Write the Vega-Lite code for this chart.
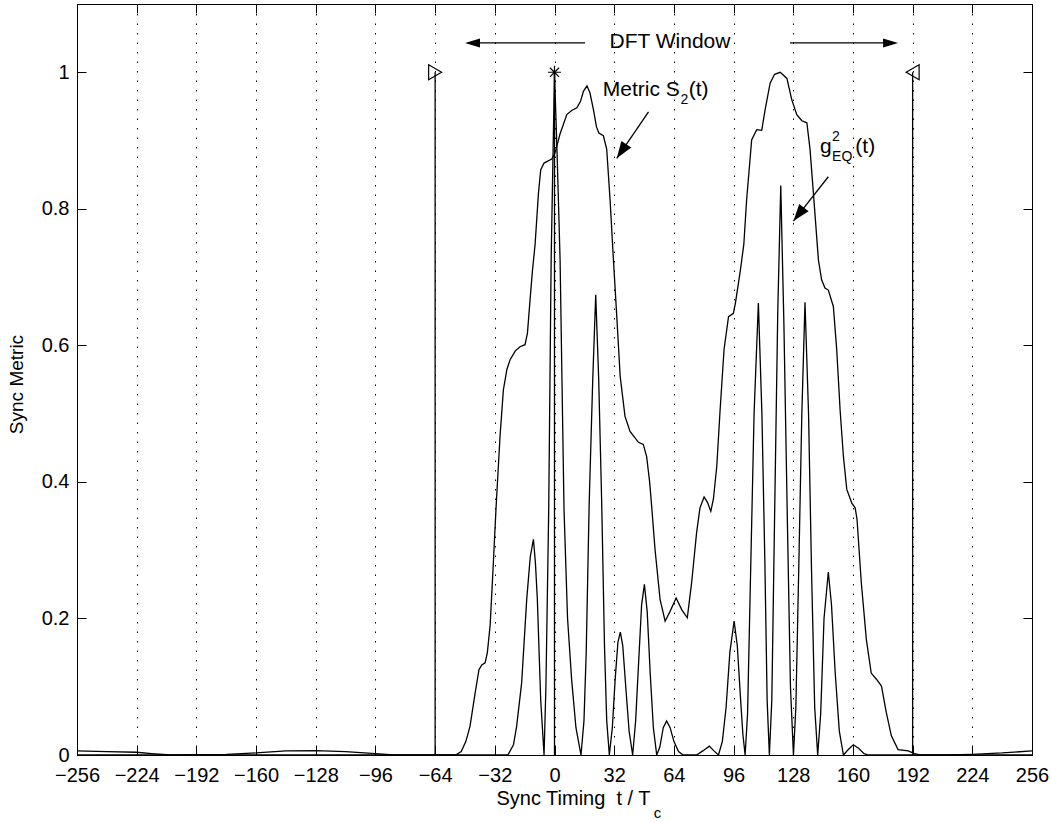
{
  "$schema": "https://vega.github.io/schema/vega-lite/v6.json",
  "width": 955,
  "height": 751,
  "autosize": "none",
  "padding": {"left": 77, "top": 4, "right": 19, "bottom": 67},
  "background": "white",
  "config": {
    "font": "Liberation Sans",
    "view": {"stroke": null},
    "axis": {
      "domainColor": "black", "tickColor": "black", "labelColor": "black", "titleColor": "black",
      "labelFont": "Liberation Sans", "titleFont": "Liberation Sans", "titleFontWeight": "normal",
      "labelFontSize": 20, "titleFontSize": 20, "tickSize": -9, "domainWidth": 1, "tickWidth": 1,
      "grid": false, "labelOverlap": false, "labelFlush": false
    }
  },
  "datasets": {
    "s2": [
      {"t":-256,"v":0.006},{"t":-240,"v":0.005},{"t":-224,"v":0.004},{"t":-216,"v":0.002},{"t":-206,"v":0.0},{"t":-192,"v":0.0005},{"t":-176,"v":0.001},{"t":-160,"v":0.003},{"t":-144,"v":0.006},{"t":-128,"v":0.0065},{"t":-112,"v":0.005},{"t":-96,"v":0.002},{"t":-86,"v":0.0},{"t":-53,"v":0.0},{"t":-50,"v":0.005},{"t":-47.5,"v":0.02},{"t":-45.3,"v":0.042},{"t":-42.6,"v":0.09},{"t":-40.5,"v":0.125},{"t":-39,"v":0.132},{"t":-37.2,"v":0.135},{"t":-36,"v":0.15},{"t":-34.5,"v":0.19},{"t":-33,"v":0.27},{"t":-31.3,"v":0.364},{"t":-29.2,"v":0.467},{"t":-27.4,"v":0.535},{"t":-25.5,"v":0.565},{"t":-23.8,"v":0.579},{"t":-21,"v":0.592},{"t":-18.5,"v":0.598},{"t":-15.8,"v":0.601},{"t":-14.5,"v":0.618},{"t":-13.1,"v":0.667},{"t":-11.8,"v":0.71},{"t":-10.4,"v":0.748},{"t":-8.6,"v":0.823},{"t":-7.4,"v":0.857},{"t":-5.6,"v":0.867},{"t":-1.5,"v":0.873},{"t":0.3,"v":0.882},{"t":3,"v":0.91},{"t":6.6,"v":0.938},{"t":9.2,"v":0.944},{"t":12,"v":0.948},{"t":14,"v":0.958},{"t":15.5,"v":0.972},{"t":17.4,"v":0.98},{"t":19,"v":0.97},{"t":20.9,"v":0.945},{"t":22.5,"v":0.92},{"t":23.8,"v":0.911},{"t":26.2,"v":0.907},{"t":28,"v":0.887},{"t":29.8,"v":0.813},{"t":31.6,"v":0.725},{"t":33.4,"v":0.642},{"t":35.2,"v":0.555},{"t":37.8,"v":0.496},{"t":40.5,"v":0.474},{"t":45,"v":0.458},{"t":47.6,"v":0.455},{"t":49.4,"v":0.437},{"t":51,"v":0.4},{"t":52.1,"v":0.364},{"t":53.9,"v":0.301},{"t":56.6,"v":0.228},{"t":59.3,"v":0.196},{"t":61.9,"v":0.21},{"t":65.2,"v":0.23},{"t":68.2,"v":0.213},{"t":71.2,"v":0.201},{"t":73.5,"v":0.252},{"t":76.2,"v":0.326},{"t":78,"v":0.362},{"t":80.2,"v":0.378},{"t":82,"v":0.37},{"t":83.8,"v":0.357},{"t":85.2,"v":0.375},{"t":87,"v":0.423},{"t":88.8,"v":0.506},{"t":90.9,"v":0.594},{"t":93.3,"v":0.642},{"t":95.9,"v":0.647},{"t":97,"v":0.662},{"t":99.7,"v":0.711},{"t":101.5,"v":0.748},{"t":103,"v":0.813},{"t":105.7,"v":0.901},{"t":108.4,"v":0.916},{"t":111.1,"v":0.915},{"t":112.9,"v":0.945},{"t":115.6,"v":0.984},{"t":118,"v":0.997},{"t":121,"v":1.0},{"t":124.6,"v":0.991},{"t":127.2,"v":0.96},{"t":129.9,"v":0.938},{"t":132.6,"v":0.929},{"t":135.3,"v":0.926},{"t":137,"v":0.887},{"t":138.8,"v":0.823},{"t":141.5,"v":0.725},{"t":143.2,"v":0.696},{"t":145,"v":0.684},{"t":146.8,"v":0.681},{"t":149.5,"v":0.657},{"t":151.3,"v":0.594},{"t":153.1,"v":0.506},{"t":154.9,"v":0.437},{"t":156.7,"v":0.389},{"t":159.4,"v":0.369},{"t":161.2,"v":0.362},{"t":162.2,"v":0.345},{"t":164.5,"v":0.252},{"t":167.2,"v":0.169},{"t":169.8,"v":0.12},{"t":172.6,"v":0.111},{"t":175.3,"v":0.101},{"t":177.9,"v":0.062},{"t":180.6,"v":0.028},{"t":184.2,"v":0.008},{"t":189.6,"v":0.006},{"t":193,"v":0.002},{"t":196,"v":0.0},{"t":210,"v":0.0},{"t":224,"v":0.001},{"t":240,"v":0.003},{"t":256,"v":0.006}
    ],
    "g2": [
      {"t":-256,"v":0},{"t":-25,"v":0},{"t":-22,"v":0.015},{"t":-20.3,"v":0.042},{"t":-17.6,"v":0.106},{"t":-14.9,"v":0.228},{"t":-13,"v":0.29},{"t":-11.3,"v":0.316},{"t":-10.2,"v":0.28},{"t":-9.2,"v":0.228},{"t":-7.4,"v":0.081},{"t":-5.6,"v":0},{"t":-4.6,"v":0.1},{"t":-3.1,"v":0.36},{"t":-1.8,"v":0.725},{"t":0,"v":1},{"t":1.5,"v":0.87},{"t":3,"v":0.725},{"t":4,"v":0.55},{"t":5.1,"v":0.36},{"t":7,"v":0.2},{"t":9.2,"v":0.11},{"t":11.5,"v":0.04},{"t":14.2,"v":0},
      {"t":15.8,"v":0.05},{"t":17,"v":0.15},{"t":18.6,"v":0.37},{"t":20.5,"v":0.55},{"t":22.1,"v":0.674},{"t":23.7,"v":0.55},{"t":25.3,"v":0.37},{"t":26.8,"v":0.16},{"t":28,"v":0.05},{"t":29.4,"v":0},
      {"t":31,"v":0.04},{"t":32.5,"v":0.11},{"t":34,"v":0.165},{"t":35.3,"v":0.18},{"t":36.6,"v":0.16},{"t":38.2,"v":0.1},{"t":40,"v":0.035},{"t":41.9,"v":0},
      {"t":43.5,"v":0.05},{"t":45,"v":0.13},{"t":46.7,"v":0.22},{"t":48.2,"v":0.25},{"t":49.7,"v":0.21},{"t":51.3,"v":0.12},{"t":53,"v":0.04},{"t":54.8,"v":0},
      {"t":56.5,"v":0.012},{"t":58.3,"v":0.04},{"t":60.1,"v":0.05},{"t":62,"v":0.04},{"t":64,"v":0.02},{"t":66.5,"v":0.005},{"t":69,"v":0},
      {"t":76.2,"v":0},{"t":79.5,"v":0.006},{"t":83,"v":0.013},{"t":85.5,"v":0.006},{"t":87.9,"v":0},
      {"t":90,"v":0.02},{"t":92,"v":0.07},{"t":94,"v":0.15},{"t":96.3,"v":0.196},{"t":98,"v":0.16},{"t":99.8,"v":0.08},{"t":101,"v":0.03},{"t":102.2,"v":0},
      {"t":103.5,"v":0.06},{"t":105,"v":0.25},{"t":107,"v":0.5},{"t":109.3,"v":0.662},{"t":111.2,"v":0.5},{"t":112.8,"v":0.28},{"t":114,"v":0.08},{"t":115.2,"v":0},
      {"t":116.5,"v":0.08},{"t":118,"v":0.35},{"t":119.7,"v":0.65},{"t":121.3,"v":0.834},{"t":123,"v":0.63},{"t":124.8,"v":0.35},{"t":126.5,"v":0.1},{"t":128.1,"v":0},
      {"t":129.4,"v":0.07},{"t":131,"v":0.28},{"t":132.6,"v":0.5},{"t":134.3,"v":0.663},{"t":136.2,"v":0.5},{"t":137.8,"v":0.27},{"t":139.5,"v":0.07},{"t":141.1,"v":0},
      {"t":142.7,"v":0.06},{"t":144.5,"v":0.2},{"t":146.8,"v":0.268},{"t":148.5,"v":0.22},{"t":150.5,"v":0.12},{"t":152.7,"v":0.035},{"t":154.9,"v":0},
      {"t":157.5,"v":0.008},{"t":160.2,"v":0.015},{"t":163,"v":0.01},{"t":166,"v":0.002},{"t":168.3,"v":0},{"t":256,"v":0}
    ]
  },
  "layer": [
    {
      "data": {"name": "s2"},
      "mark": {"type": "line", "color": "black", "strokeWidth": 1.3},
      "encoding": {
        "x": {"field": "t", "type": "quantitative", "scale": {"domain": [-256, 256], "nice": false, "zero": false},
          "axis": {"orient": "bottom", "values": [-256,-224,-192,-160,-128,-96,-64,-32,0,32,64,96,128,160,192,224,256], "format": "d",
            "labelPadding": 19, "grid": true, "gridDash": [1.5, 8], "gridColor": "black", "gridWidth": 1,
            "title": "Sync Timing\u00a0 t / T", "titleX": 496, "titleY": 33, "titleBaseline": "top", "titleAlign": "center"}},
        "y": {"field": "v", "type": "quantitative", "scale": {"domain": [0, 1.1], "nice": false},
          "axis": {"orient": "left", "values": [0,0.2,0.4,0.6,0.8,1], "format": "~g", "labelPadding": 17,
            "title": "Sync Metric", "titleX": -51, "titleY": 380, "titleAngle": -90, "titleBaseline": "bottom", "titleAlign": "center", "titleFontSize": 19}}
      }
    },
    {
      "data": {"name": "g2"},
      "mark": {"type": "line", "color": "black", "strokeWidth": 1.3},
      "encoding": {
        "x": {"field": "t", "type": "quantitative",
          "axis": {"orient": "top", "values": [-256,-224,-192,-160,-128,-96,-64,-32,0,32,64,96,128,160,192,224,256], "labels": false, "title": null}},
        "y": {"field": "v", "type": "quantitative",
          "axis": {"orient": "right", "values": [0,0.2,0.4,0.6,0.8,1], "labels": false, "title": null}}
      }
    },
    {
      "data": {"values": [{"t": -64, "lo": 0, "hi": 1}, {"t": 0, "lo": 0, "hi": 1}, {"t": 192, "lo": 0, "hi": 1}]},
      "mark": {"type": "rule", "color": "black", "strokeWidth": 1.3},
      "encoding": {
        "x": {"field": "t", "type": "quantitative",
          "axis": {"orient": "bottom", "labels": false, "ticks": false, "domain": false, "title": "c", "titleFontSize": 15, "titleX": 580, "titleY": 62, "titleBaseline": "alphabetic", "titleAlign": "center"}},
        "y": {"field": "lo", "type": "quantitative", "axis": null},
        "y2": {"field": "hi"}
      }
    },
    {
      "data": {"values": [{"t": -64, "v": 1}]},
      "mark": {"type": "point", "shape": "triangle-right", "filled": false, "color": "black", "size": 225, "strokeWidth": 1.2, "opacity": 1},
      "encoding": {"x": {"field": "t", "type": "quantitative", "axis": null}, "y": {"field": "v", "type": "quantitative", "axis": null}}
    },
    {
      "data": {"values": [{"t": 192, "v": 1}]},
      "mark": {"type": "point", "shape": "triangle-left", "filled": false, "color": "black", "size": 225, "strokeWidth": 1.2, "opacity": 1},
      "encoding": {"x": {"field": "t", "type": "quantitative", "axis": null}, "y": {"field": "v", "type": "quantitative", "axis": null}}
    },
    {
      "data": {"values": [{"t": 0, "v": 1}]},
      "mark": {"type": "point", "shape": "M-1,0L1,0M0,-1L0,1M-0.7,-0.7L0.7,0.7M-0.7,0.7L0.7,-0.7", "filled": false, "color": "black", "size": 169, "strokeWidth": 1.2, "opacity": 1},
      "encoding": {"x": {"field": "t", "type": "quantitative", "axis": null}, "y": {"field": "v", "type": "quantitative", "axis": null}}
    },
    {
      "data": {"values": [
        {"x": 16.4, "y": 1.043, "x2": -46, "y2": 1.043},
        {"x": 126.3, "y": 1.043, "x2": 182, "y2": 1.043},
        {"x": 50.4, "y": 0.942, "x2": 33.4, "y2": 0.874},
        {"x": 146.8, "y": 0.847, "x2": 128.1, "y2": 0.782}
      ]},
      "mark": {"type": "rule", "color": "black", "strokeWidth": 1.3},
      "encoding": {
        "x": {"field": "x", "type": "quantitative", "axis": null},
        "y": {"field": "y", "type": "quantitative", "axis": null},
        "x2": {"field": "x2"}, "y2": {"field": "y2"}
      }
    },
    {
      "data": {"values": [{"t": -48, "v": 1.043}]},
      "mark": {"type": "point", "shape": "M0,0L-0.3,1L0.3,1Z", "filled": true, "color": "black", "size": 900, "angle": 270, "opacity": 1},
      "encoding": {"x": {"field": "t", "type": "quantitative", "axis": null}, "y": {"field": "v", "type": "quantitative", "axis": null}}
    },
    {
      "data": {"values": [{"t": 184.2, "v": 1.043}]},
      "mark": {"type": "point", "shape": "M0,0L-0.3,1L0.3,1Z", "filled": true, "color": "black", "size": 900, "angle": 90, "opacity": 1},
      "encoding": {"x": {"field": "t", "type": "quantitative", "axis": null}, "y": {"field": "v", "type": "quantitative", "axis": null}}
    },
    {
      "data": {"values": [{"t": 33.4, "v": 0.874}]},
      "mark": {"type": "point", "shape": "M0,0L-0.35,1L0.35,1Z", "filled": true, "color": "black", "size": 1156, "angle": 214, "opacity": 1},
      "encoding": {"x": {"field": "t", "type": "quantitative", "axis": null}, "y": {"field": "v", "type": "quantitative", "axis": null}}
    },
    {
      "data": {"values": [{"t": 128.1, "v": 0.782}]},
      "mark": {"type": "point", "shape": "M0,0L-0.35,1L0.35,1Z", "filled": true, "color": "black", "size": 1156, "angle": 218, "opacity": 1},
      "encoding": {"x": {"field": "t", "type": "quantitative", "axis": null}, "y": {"field": "v", "type": "quantitative", "axis": null}}
    },
    {
      "data": {"values": [{"t": 61.9, "v": 1.036, "label": "DFT Window"}]},
      "mark": {"type": "text", "align": "center", "baseline": "alphabetic", "fontSize": 21, "color": "black", "font": "Liberation Sans"},
      "encoding": {"x": {"field": "t", "type": "quantitative", "axis": null}, "y": {"field": "v", "type": "quantitative", "axis": null}, "text": {"field": "label"}}
    },
    {
      "data": {"values": [{"t": 25.9, "v": 0.9656, "label": "Metric S"}, {"t": 142.4, "v": 0.882, "label": "g"}]},
      "mark": {"type": "text", "align": "left", "baseline": "alphabetic", "fontSize": 21, "color": "black", "font": "Liberation Sans"},
      "encoding": {"x": {"field": "t", "type": "quantitative", "axis": null}, "y": {"field": "v", "type": "quantitative", "axis": null}, "text": {"field": "label"}}
    },
    {
      "data": {"values": [{"t": 67.6, "v": 0.954, "label": "2"}, {"t": 148.8, "v": 0.9, "label": "2"}, {"t": 148.8, "v": 0.870, "label": "EQ"}]},
      "mark": {"type": "text", "align": "left", "baseline": "alphabetic", "fontSize": 14, "color": "black", "font": "Liberation Sans"},
      "encoding": {"x": {"field": "t", "type": "quantitative", "axis": null}, "y": {"field": "v", "type": "quantitative", "axis": null}, "text": {"field": "label"}}
    },
    {
      "data": {"values": [{"t": 82.6, "v": 0.9656, "label": "(t)"}, {"t": 171.9, "v": 0.882, "label": "(t)"}]},
      "mark": {"type": "text", "align": "right", "baseline": "alphabetic", "fontSize": 21, "color": "black", "font": "Liberation Sans"},
      "encoding": {"x": {"field": "t", "type": "quantitative", "axis": null}, "y": {"field": "v", "type": "quantitative", "axis": null}, "text": {"field": "label"}}
    }
  ],
  "resolve": {"axis": {"x": "independent", "y": "independent"}}
}
